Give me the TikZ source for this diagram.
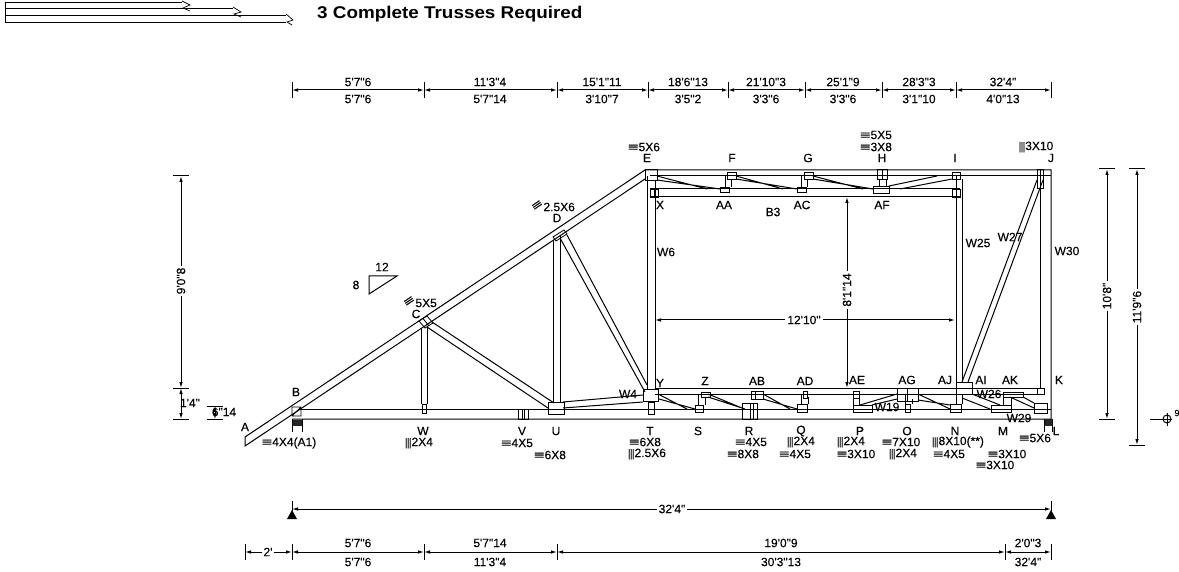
\documentclass[tikz,border=0pt]{standalone}
\usepackage{fontspec}
\usetikzlibrary{arrows.meta}
\newfontfamily\dimfont[FakeBold=0.2]{Liberation Sans}
\newfontfamily\titlefont{Liberation Sans Bold}
\newcommand{\eqs}{\scalebox{1.5}[1]{≡}}
\newcommand{\bars}{\scalebox{0.8}[0.9]{|\kern-0.6pt|\kern-0.6pt|}}
\begin{document}
\begin{tikzpicture}[x=1pt,y=-1pt]

\tikzset{lbl/.style = {font=\dimfont\fontsize{12}{12}\selectfont,inner sep=0pt}}
\tikzset{member/.style = {draw,line width=1pt}}
\tikzset{plate/.style = {draw,line width=0.8pt}}
\tikzset{dimline/.style = {draw,line width=1pt,{Latex[length=6pt,width=3.5pt]}-{Latex[length=6pt,width=3.5pt]}}}
\tikzset{brk/.style = {lbl,fill=white,inner sep=2pt}}
\tikzset{tick/.style = {draw,line width=1pt}}

\useasboundingbox (0,0) rectangle (1179,572);

%stacked plies
\draw[member] (5,3) -- (182,3) (5,9) -- (233,9) (5,16) -- (286,16) (5,23) -- (286,23);
\draw[member] (5,3) -- (5,23);
\draw[member,line width=0.7pt] (182,1) -- (190,5) -- (183,8) -- (190,11);
\draw[member,line width=0.7pt] (233,7) -- (241,12) -- (234,14) -- (241,17);
\draw[member,line width=0.7pt] (286,14) -- (293,20) -- (287,22) -- (292,25);
\node[lbl,anchor=west] (title) at (317,14) {\titlefont\fontsize{17}{17}\selectfont\scalebox{1.11}[1]{3 Complete Trusses Required}};

%top dimension
\coordinate (t0) at (292,90);
\coordinate (t1) at (424,90);
\coordinate (t2) at (557,90);
\coordinate (t3) at (648,90);
\coordinate (t4) at (728,90);
\coordinate (t5) at (805,90);
\coordinate (t6) at (882,90);
\coordinate (t7) at (956,90);
\coordinate (t8) at (1051,90);
\foreach \n in {t0,t1,t2,t3,t4,t5,t6,t7,t8}
  \draw[tick] ([yshift=-8pt]\n) -- ([yshift=8pt]\n);
\draw[dimline] (t0) -- (t1);
\draw[dimline] (t1) -- (t2);
\draw[dimline] (t2) -- (t3);
\draw[dimline] (t3) -- (t4);
\draw[dimline] (t4) -- (t5);
\draw[dimline] (t5) -- (t6);
\draw[dimline] (t6) -- (t7);
\draw[dimline] (t7) -- (t8);
\node[lbl] (ta0) at (358,82) {5'7"6};
\node[lbl] (tb0) at (358,99) {5'7"6};
\node[lbl] (ta1) at (490,82) {11'3"4};
\node[lbl] (tb1) at (490,99) {5'7"14};
\node[lbl] (ta2) at (602,82) {15'1"11};
\node[lbl] (tb2) at (602,99) {3'10"7};
\node[lbl] (ta3) at (688,82) {18'6"13};
\node[lbl] (tb3) at (688,99) {3'5"2};
\node[lbl] (ta4) at (766,82) {21'10"3};
\node[lbl] (tb4) at (766,99) {3'3"6};
\node[lbl] (ta5) at (843,82) {25'1"9};
\node[lbl] (tb5) at (843,99) {3'3"6};
\node[lbl] (ta6) at (919,82) {28'3"3};
\node[lbl] (tb6) at (919,99) {3'1"10};
\node[lbl] (ta7) at (1003,82) {32'4"};
\node[lbl] (tb7) at (1003,99) {4'0"13};

%bottom dimensions
\coordinate (o0) at (292,509);
\coordinate (o1) at (1051,509);
\draw[tick] (292,501) -- (292,511);
\draw[tick] (1051,501) -- (1051,511);
\fill (292,510) -- (297,519) -- (287,519) -- cycle;
\fill (1051,510) -- (1056,519) -- (1046,519) -- cycle;
\draw[dimline] (o0) -- (o1);
\node[brk] (over) at (672,509) {32'4"};
\coordinate (b0) at (245,552);
\coordinate (b1) at (292,552);
\coordinate (b2) at (424,552);
\coordinate (b3) at (557,552);
\coordinate (b4) at (1005,552);
\coordinate (b5) at (1051,552);
\foreach \n in {b0,b1,b2,b3,b4,b5}
  \draw[tick] ([yshift=-8pt]\n) -- ([yshift=8pt]\n);
\draw[dimline] (b0) -- (b1);
\draw[dimline] (b1) -- (b2);
\draw[dimline] (b2) -- (b3);
\draw[dimline] (b3) -- (b4);
\draw[dimline] (b4) -- (b5);
\node[brk] (ba0) at (268,552) {2'};
\node[lbl] (ba1) at (358,543) {5'7"6};
\node[lbl] (bb1) at (358,562) {5'7"6};
\node[lbl] (ba2) at (490,543) {5'7"14};
\node[lbl] (bb2) at (490,562) {11'3"4};
\node[lbl] (ba3) at (781,543) {19'0"9};
\node[lbl] (bb3) at (781,562) {30'3"13};
\node[lbl] (ba4) at (1028,543) {2'0"3};
\node[lbl] (bb4) at (1028,562) {32'4"};

%left dimensions
\coordinate (l0) at (181,176);
\coordinate (l1) at (181,388);
\coordinate (l2) at (181,419);
\foreach \n in {l0,l1,l2}
  \draw[tick] ([xshift=-8pt]\n) -- ([xshift=8pt]\n);
\draw[dimline] (l0) -- (l1);
\draw[dimline] (l1) -- (l2);
\node[brk,rotate=90] (l9) at (181,281) {9'0"8};
\node[lbl] (l14) at (190,403) {1'4"};
\coordinate (h0) at (215,406);
\coordinate (h1) at (215,419);
\draw[tick] (207,406) -- (223,406) (207,419) -- (223,419);
\draw[dimline,line width=0.7pt] (h0) -- (h1);
\node[lbl] (h6) at (224,412) {6"14};

%right dimensions
\coordinate (r0) at (1107,169);
\coordinate (r1) at (1107,419);
\coordinate (r2) at (1137,169);
\coordinate (r3) at (1137,445);
\foreach \n in {r0,r1,r2,r3}
  \draw[tick] ([xshift=-8pt]\n) -- ([xshift=8pt]\n);
\draw[dimline] (r0) -- (r1);
\draw[dimline] (r2) -- (r3);
\node[brk,rotate=90] (r10) at (1107,296) {10'8"};
\node[brk,rotate=90] (r11) at (1137,307) {11'9"6};
\draw[tick] (1150,419) -- (1172,419) (1167,413) -- (1167,426);
\draw[tick] (1167,419) circle (4);
\node[lbl,font=\dimfont\fontsize{9}{9}\selectfont] (datum) at (1177,413) {9};

%slope mark
\draw[member] (369,276) -- (397,276) -- (369,294) -- cycle;
\node[lbl] (s12) at (382,267) {12};
\node[lbl] (s8) at (356,285) {8};

%chords
\draw[member] (245,437) -- (645,170) -- (1051,170) -- (1051,419) -- (292,419);
\draw[member] (245,437) -- (245,446) -- (645,179);
\draw[member] (650,176) -- (1051,176);
\draw[member] (300,409) -- (1051,409);
\draw[member] (650,189) -- (960,189) (650,197) -- (960,197);
\draw[member] (655,388) -- (1044,388) (655,394) -- (1044,394);
\draw[member] (1040,176) -- (1040,388);

%webs
\draw[member] (421,328) -- (421,404) (427,326) -- (427,404);
\draw[member] (427,327) -- (548,408) (432,322) -- (554,403);
\draw[member] (553,240) -- (553,403) (560,236) -- (560,403);
\draw[member] (560,238) -- (645,392) (567,235) -- (647,385);
\draw[member] (563,402) -- (643,395) (563,408) -- (643,402);
\draw[member] (647,176) -- (647,389) (655,180) -- (655,389);
\draw[member] (956,176) -- (956,382) (962,179) -- (962,382);
\draw[member] (962,382) -- (1037,180) (968,382) -- (1043,180);

%upper floor webs
\draw[member] (657,176) -- (707,189) (657,180) -- (720,189);
\draw[member] (725,176) -- (725,187) (731,179) -- (731,187);
\draw[member] (736,176) -- (783,189) (736,179) -- (797,189);
\draw[member] (801,176) -- (801,187) (807,179) -- (807,187);
\draw[member] (813,176) -- (863,189) (813,179) -- (873,189);
\draw[member] (879,179) -- (879,186) (886,179) -- (886,186);
\draw[member] (889,186) -- (937,176) (900,189) -- (952,179);

%lower floor webs
\draw[member] (658,394) -- (687,409) (659,399) -- (695,409);
\draw[member] (698,394) -- (698,405) (705,397) -- (705,405);
\draw[member] (708,394) -- (742,408) (708,397) -- (745,409);
\draw[member] (763,394) -- (790,409) (763,399) -- (797,409);
\draw[member] (801,394) -- (801,404) (808,397) -- (808,404);
\draw[member] (853,394) -- (853,405) (859,397) -- (859,405);
\draw[member] (860,405) -- (897,394) (872,405) -- (897,399);
\draw[member] (905,394) -- (905,404) (912,399) -- (912,404);
\draw[member] (918,394) -- (950,409) (918,400) -- (950,405);
\draw[member] (972,394) -- (1000,405) (962,398) -- (990,409);
\draw[member] (1003,394) -- (1003,405) (1011,397) -- (1011,405);
\draw[member] (1010,397) -- (1034,408) (1023,397) -- (1034,403);

%plates
\draw[plate] (292,407) rectangle (301,416) (292,416) -- (301,407);
\draw[plate] (419,321) -- (427,316) -- (433,323) -- (425,328) -- cycle (423,318.5) -- (429,326);
\draw[plate] (553,237) -- (564,230) -- (567,234) -- (556,241) -- cycle;
\draw[plate] (422,404) rectangle (426,413);
\draw[plate] (518,409) rectangle (528,419) (522,409) -- (522,419) (524,409) -- (524,419);
\draw[plate] (548,402) rectangle (564,414);
\draw[plate] (643,389) rectangle (658,401);
\draw[plate] (648,402) rectangle (654,414);
\draw[plate] (645,169) rectangle (657,180);
\draw[plate] (650,189) rectangle (658,197) (654,189) -- (654,197);
\draw[plate] (727,172) rectangle (736,179);
\draw[plate] (720,187) rectangle (729,192);
\draw[plate] (804,172) rectangle (813,179);
\draw[plate] (797,187) rectangle (806,192);
\draw[plate] (877,169) rectangle (887,179) (882,169) -- (882,179);
\draw[plate] (873,186) rectangle (889,193);
\draw[plate] (952,172) rectangle (960,179);
\draw[plate] (952,189) rectangle (960,197);
\draw[plate] (1037,169) rectangle (1043,188) (1040,169) -- (1040,188);
\draw[plate] (695,405) rectangle (703,412);
\draw[plate] (701,392) rectangle (710,397);
\draw[plate] (742,403) rectangle (757,419) (750,403) -- (750,419) (753,403) -- (753,419);
\draw[plate] (751,391) rectangle (763,399) (755,391) -- (755,399);
\draw[plate] (797,404) rectangle (807,412);
\draw[plate] (803,391) rectangle (807,398);
\draw[plate] (853,405) rectangle (872,412);
\draw[plate] (853,391) rectangle (859,398);
\draw[plate] (897,388) rectangle (918,401) (907,388) -- (907,401);
\draw[plate] (905,404) rectangle (910,412);
\draw[plate] (950,404) rectangle (961,412);
\draw[plate] (956,382) rectangle (972,394) (956,394) -- (956,404) (962,394) -- (962,404);
\draw[plate] (991,405) rectangle (1011,412);
\draw[plate] (1003,392) rectangle (1023,397);
\draw[plate] (1034,403) rectangle (1047,413);
\draw[plate] (1037,388) rectangle (1044,394);

%bearings
\fill[black!85] (292,420) rectangle (302,426);
\draw[member] (292,419) -- (292,432) (302,419) -- (302,432);
\fill[black!85] (1044,419) rectangle (1052,426);
\draw[member] (1044,419) -- (1044,432) (1052,419) -- (1052,432);

%inner dimensions
\coordinate (w0) at (655,320);
\coordinate (w1) at (955,320);
\draw[dimline] (w0) -- (w1);
\node[brk] (w12) at (804,320) {12'10"};
\coordinate (v0) at (847,197);
\coordinate (v1) at (847,388);
\draw[dimline] (v0) -- (v1);
\node[brk,rotate=90] (v8) at (847,290) {8'1"14};

%joint letters
\node[lbl] (A) at (245,427) {A};
\node[lbl] (B) at (296,392) {B};
\node[lbl] (C) at (416,314) {C};
\node[lbl] (D) at (557,218) {D};
\node[lbl] (E) at (647,158) {E};
\node[lbl] (F) at (732,158) {F};
\node[lbl] (G) at (808,158) {G};
\node[lbl] (H) at (882,158) {H};
\node[lbl] (I) at (955,158) {I};
\node[lbl] (J) at (1051,158) {J};
\node[lbl] (K) at (1059,380) {K};
\node[lbl] (L) at (1056,431) {L};
\node[lbl] (M) at (1003,431) {M};
\node[lbl] (N) at (955,431) {N};
\node[lbl] (O) at (907,431) {O};
\node[lbl] (P) at (860,431) {P};
\node[lbl] (Q) at (801,431) {Q};
\node[lbl] (R) at (749,431) {R};
\node[lbl] (S) at (698,431) {S};
\node[lbl] (T) at (650,431) {T};
\node[lbl] (U) at (556,431) {U};
\node[lbl] (V) at (522,431) {V};
\node[lbl] (W) at (423,431) {W};
\node[lbl] (X) at (660,205) {X};
\node[lbl] (Y) at (660,383) {Y};
\node[lbl] (Z) at (705,381) {Z};
\node[lbl] (AA) at (724,205) {AA};
\node[lbl] (AB) at (757,381) {AB};
\node[lbl] (AC) at (802,205) {AC};
\node[lbl] (AD) at (805,381) {AD};
\node[lbl] (AE) at (857,380) {AE};
\node[lbl] (AF) at (882,205) {AF};
\node[lbl] (AG) at (907,380) {AG};
\node[lbl] (AI) at (981,380) {AI};
\node[lbl] (AJ) at (945,380) {AJ};
\node[lbl] (AK) at (1010,380) {AK};

%member names
\node[lbl] (B3) at (773,212) {B3};
\node[lbl] (W4) at (628,394) {W4};
\node[lbl] (W6) at (666,252) {W6};
\node[lbl] (W19) at (887,407) {W19};
\node[lbl] (W25) at (978,243) {W25};
\node[lbl] (W26) at (989,394) {W26};
\node[lbl] (W27) at (1010,237) {W27};
\node[lbl] (W29) at (1019,418) {W29};
\node[lbl] (W30) at (1067,251) {W30};

%plate sizes
\node[lbl] (pA) at (289,443) {\eqs 4X4(A1)};
\node[lbl] (pC) at (420,303) {\smash{\rotatebox{34}{\eqs}}5X5};
\node[lbl] (pD) at (553,207) {\smash{\rotatebox{34}{\eqs}}2.5X6};
\node[lbl] (pE) at (644,147) {\eqs 5X6};
\node[lbl] (pHa) at (876,135) {\eqs 5X5};
\node[lbl] (pHb) at (876,147) {\eqs 3X8};
\node[lbl] (pJ) at (1036,147) {\bars 3X10};
\node[lbl] (pW) at (419,443) {\bars 2X4};
\node[lbl] (pV) at (517,443) {\eqs 4X5};
\node[lbl] (pU) at (550,455) {\eqs 6X8};
\node[lbl] (pTa) at (645,442) {\eqs 6X8};
\node[lbl] (pTb) at (647,454) {\bars 2.5X6};
\node[lbl] (pRa) at (751,442) {\eqs 4X5};
\node[lbl] (pRb) at (743,454) {\eqs 8X8};
\node[lbl] (pQa) at (801,442) {\bars 2X4};
\node[lbl] (pQb) at (795,454) {\eqs 4X5};
\node[lbl] (pPa) at (851,442) {\bars 2X4};
\node[lbl] (pPb) at (856,454) {\eqs 3X10};
\node[lbl] (pOa) at (901,442) {\eqs 7X10};
\node[lbl] (pOb) at (903,454) {\bars 2X4};
\node[lbl] (pNa) at (958,442) {\bars 8X10(**)};
\node[lbl] (pNb) at (949,454) {\eqs 4X5};
\node[lbl] (pL) at (1035,438) {\eqs 5X6};
\node[lbl] (pMa) at (1007,454) {\eqs 3X10};
\node[lbl] (pMb) at (995,465) {\eqs 3X10};

\end{tikzpicture}
\end{document}
